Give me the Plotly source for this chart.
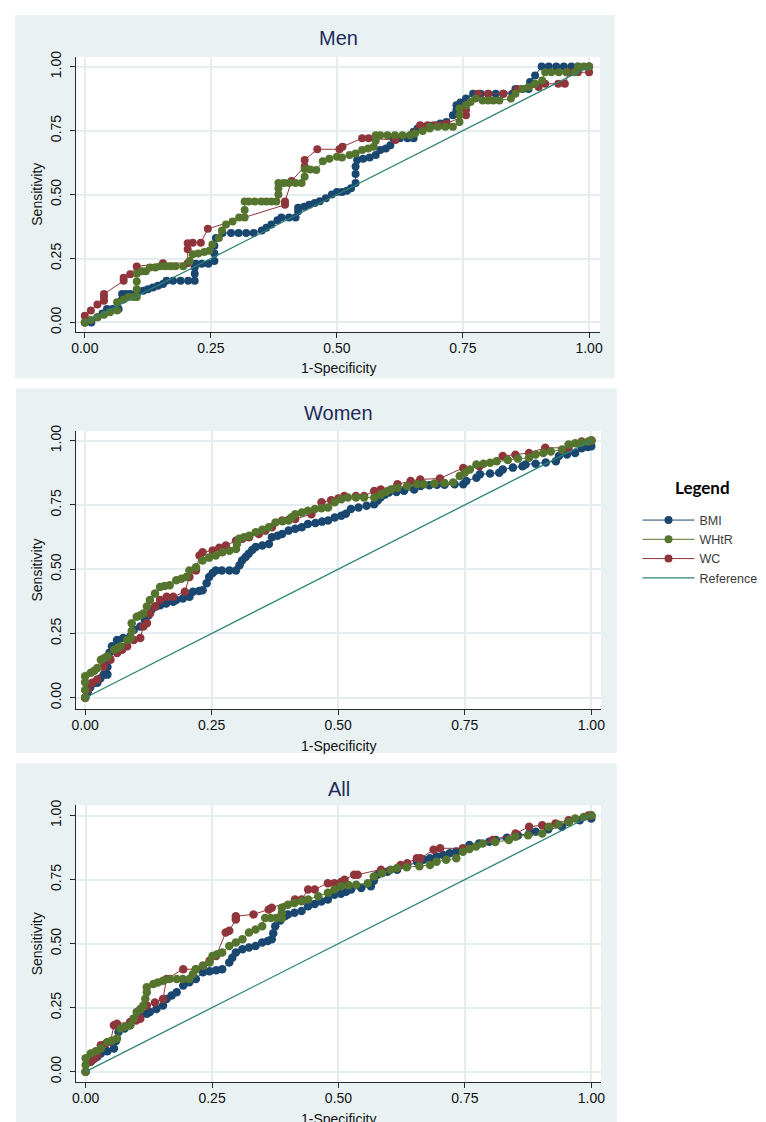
import plotly.graph_objects as go

# ---------------- data ----------------
tick_vals = [0, 0.25, 0.5, 0.75, 1]
tick_text = ["0.00", "0.25", "0.50", "0.75", "1.00"]
panel_titles = ["Men", "Women", "All"]
x_title = "1-Specificity"
y_title = "Sensitivity"

ref_line = [(0, 0), (1, 1)]

men_bmi = [(0,0),(0.013,0),(0.025,0.02),(0.035,0.035),(0.044,0.053),(0.055,0.053),(0.067,0.053),(0.074,0.09),
 (0.074,0.111),(0.082,0.111),(0.09,0.111),(0.103,0.111),(0.103,0.124),(0.116,0.124),(0.125,0.13),(0.135,0.137),
 (0.145,0.144),(0.155,0.15),(0.162,0.163),(0.175,0.163),(0.19,0.163),(0.205,0.163),(0.218,0.163),(0.218,0.19),
 (0.218,0.215),(0.22,0.23),(0.232,0.23),(0.245,0.23),(0.257,0.24),(0.257,0.27),(0.257,0.3),(0.26,0.33),
 (0.273,0.35),(0.29,0.35),(0.305,0.35),(0.32,0.35),(0.335,0.35),(0.351,0.36),(0.36,0.37),(0.37,0.383),
 (0.382,0.4),(0.39,0.41),(0.405,0.41),(0.418,0.41),(0.423,0.435),(0.423,0.448),(0.435,0.452),(0.445,0.46),
 (0.456,0.467),(0.466,0.474),(0.478,0.486),(0.49,0.5),(0.5,0.51),(0.51,0.51),(0.52,0.515),(0.528,0.525),
 (0.537,0.545),(0.537,0.58),(0.537,0.61),(0.54,0.635),(0.552,0.64),(0.565,0.645),(0.577,0.655),(0.586,0.674),
 (0.597,0.68),(0.606,0.693),(0.612,0.72),(0.625,0.72),(0.64,0.72),(0.652,0.72),(0.652,0.745),(0.66,0.758),
 (0.675,0.765),(0.69,0.77),(0.705,0.778),(0.717,0.784),(0.73,0.81),(0.737,0.83),(0.737,0.849),(0.745,0.86),
 (0.756,0.875),(0.77,0.894),(0.785,0.894),(0.8,0.894),(0.815,0.894),(0.83,0.894),(0.848,0.894),(0.854,0.913),
 (0.868,0.913),(0.88,0.913),(0.883,0.94),(0.893,0.965),(0.906,1.0),(0.92,1.0),(0.935,1.0),(0.95,1.0),
 (0.965,1.0),(0.978,1.0),(1.0,1.0)]

men_whtr = [(0,0),(0.012,0.01),(0.025,0.02),(0.038,0.03),(0.05,0.04),(0.064,0.047),(0.064,0.079),(0.077,0.09),
 (0.087,0.1),(0.097,0.1),(0.103,0.1),(0.103,0.13),(0.103,0.16),(0.103,0.19),(0.113,0.2),(0.121,0.2),(0.129,0.215),
 (0.14,0.215),(0.15,0.22),(0.16,0.22),(0.17,0.22),(0.18,0.22),(0.195,0.22),(0.208,0.24),(0.214,0.267),(0.225,0.27),
 (0.237,0.275),(0.247,0.28),(0.253,0.305),(0.266,0.33),(0.272,0.36),(0.28,0.383),(0.293,0.395),(0.306,0.41),
 (0.317,0.41),(0.317,0.44),(0.317,0.473),(0.325,0.473),(0.337,0.473),(0.35,0.473),(0.36,0.473),(0.37,0.473),
 (0.38,0.473),(0.384,0.5),(0.384,0.525),(0.384,0.545),(0.395,0.545),(0.405,0.545),(0.418,0.545),(0.43,0.545),
 (0.436,0.57),(0.436,0.6),(0.447,0.598),(0.459,0.596),(0.472,0.63),(0.485,0.64),(0.5,0.648),(0.51,0.645),
 (0.525,0.655),(0.537,0.66),(0.55,0.674),(0.562,0.68),(0.573,0.687),(0.577,0.71),(0.577,0.732),(0.586,0.732),
 (0.6,0.732),(0.615,0.732),(0.63,0.732),(0.645,0.732),(0.655,0.739),(0.67,0.748),(0.684,0.758),(0.684,0.765),
 (0.7,0.765),(0.715,0.765),(0.73,0.765),(0.743,0.784),(0.743,0.81),(0.743,0.836),(0.756,0.849),(0.765,0.862),
 (0.775,0.875),(0.789,0.868),(0.8,0.868),(0.81,0.868),(0.822,0.868),(0.845,0.875),(0.854,0.894),(0.868,0.913),
 (0.88,0.92),(0.893,0.933),(0.907,0.946),(0.913,0.978),(0.925,0.978),(0.94,0.978),(0.955,0.978),(0.972,0.978),
 (0.978,1.0),(0.99,1.0),(1.0,1.0)]

men_wc = [(0,0),(0,0.026),(0.012,0.047),(0.025,0.07),(0.038,0.085),(0.038,0.1),(0.038,0.111),(0.077,0.163),
 (0.077,0.175),(0.09,0.189),(0.103,0.219),(0.155,0.232),(0.204,0.232),(0.204,0.286),(0.204,0.31),(0.214,0.312),
 (0.23,0.312),(0.244,0.366),(0.397,0.46),(0.397,0.473),(0.41,0.553),(0.436,0.61),(0.436,0.635),(0.461,0.677),
 (0.505,0.677),(0.511,0.687),(0.55,0.72),(0.563,0.72),(0.616,0.713),(0.665,0.771),(0.68,0.771),(0.695,0.771),
 (0.705,0.771),(0.717,0.777),(0.756,0.81),(0.756,0.83),(0.756,0.849),(0.78,0.894),(0.8,0.894),(0.83,0.894),
 (0.858,0.913),(0.9,0.92),(0.913,0.933),(0.939,0.933),(0.952,0.933),(0.96,0.978),(0.978,0.978),(1.0,0.978),(1.0,1.0)]

women_bmi = [(0,0),(0.005,0.02),(0.01,0.04),(0.018,0.058),(0.024,0.058),(0.03,0.075),(0.037,0.09),(0.044,0.09),
 (0.044,0.12),(0.044,0.148),(0.048,0.175),(0.053,0.2),(0.063,0.225),(0.075,0.232),(0.089,0.238),(0.096,0.264),
 (0.109,0.277),(0.118,0.302),(0.125,0.32),(0.131,0.341),(0.14,0.355),(0.148,0.36),(0.16,0.367),(0.174,0.373),
 (0.18,0.38),(0.193,0.386),(0.206,0.393),(0.213,0.412),(0.225,0.415),(0.232,0.418),(0.24,0.445),(0.245,0.47),
 (0.252,0.485),(0.258,0.495),(0.27,0.495),(0.285,0.495),(0.298,0.495),(0.305,0.515),(0.31,0.534),(0.317,0.547),
 (0.323,0.56),(0.33,0.575),(0.337,0.586),(0.35,0.592),(0.363,0.598),(0.369,0.624),(0.38,0.63),(0.389,0.637),
 (0.402,0.65),(0.415,0.657),(0.428,0.663),(0.44,0.676),(0.455,0.68),(0.468,0.685),(0.48,0.689),(0.493,0.701),
 (0.506,0.708),(0.515,0.716),(0.525,0.734),(0.54,0.74),(0.556,0.747),(0.571,0.753),(0.578,0.767),(0.584,0.78),
 (0.592,0.79),(0.6,0.798),(0.615,0.8),(0.63,0.805),(0.65,0.81),(0.663,0.824),(0.68,0.826),(0.695,0.828),
 (0.71,0.828),(0.73,0.83),(0.747,0.83),(0.753,0.843),(0.773,0.856),(0.78,0.869),(0.8,0.872),(0.818,0.875),
 (0.825,0.888),(0.845,0.895),(0.864,0.9),(0.87,0.907),(0.89,0.91),(0.91,0.915),(0.93,0.92),(0.936,0.94),
 (0.952,0.946),(0.968,0.952),(0.981,0.97),(0.993,0.975),(1.0,0.978),(1.0,1.0)]

women_whtr = [(0,0),(0,0.03),(0,0.06),(0,0.084),(0.011,0.097),(0.018,0.105),(0.024,0.116),(0.031,0.148),
 (0.038,0.155),(0.044,0.161),(0.057,0.187),(0.064,0.193),(0.07,0.2),(0.083,0.225),(0.09,0.232),(0.092,0.26),
 (0.092,0.29),(0.102,0.315),(0.108,0.32),(0.115,0.328),(0.122,0.355),(0.128,0.38),(0.138,0.405),(0.148,0.431),
 (0.157,0.435),(0.167,0.438),(0.18,0.457),(0.19,0.463),(0.2,0.47),(0.206,0.495),(0.219,0.508),(0.232,0.534),
 (0.245,0.545),(0.258,0.553),(0.271,0.566),(0.285,0.572),(0.298,0.579),(0.3,0.598),(0.304,0.618),(0.314,0.624),
 (0.324,0.63),(0.337,0.644),(0.35,0.653),(0.363,0.663),(0.376,0.682),(0.39,0.686),(0.402,0.689),(0.408,0.702),
 (0.415,0.714),(0.428,0.72),(0.44,0.727),(0.454,0.734),(0.467,0.737),(0.48,0.74),(0.493,0.76),(0.506,0.772),
 (0.519,0.779),(0.535,0.779),(0.551,0.779),(0.571,0.779),(0.584,0.79),(0.594,0.8),(0.604,0.81),(0.617,0.817),
 (0.636,0.824),(0.656,0.83),(0.669,0.83),(0.69,0.833),(0.71,0.835),(0.727,0.837),(0.74,0.862),(0.75,0.875),
 (0.76,0.888),(0.773,0.907),(0.787,0.91),(0.8,0.914),(0.813,0.92),(0.835,0.925),(0.855,0.93),(0.877,0.933),
 (0.89,0.946),(0.905,0.952),(0.92,0.958),(0.942,0.965),(0.955,0.985),(0.968,0.99),(0.981,0.993),(0.994,0.997),(1.0,1.0)]

women_wc = [(0,0),(0.005,0.032),(0.014,0.058),(0.024,0.071),(0.037,0.122),(0.05,0.148),(0.063,0.174),(0.073,0.187),
 (0.083,0.2),(0.096,0.225),(0.109,0.232),(0.115,0.277),(0.122,0.29),(0.128,0.328),(0.138,0.355),(0.148,0.38),
 (0.161,0.393),(0.174,0.393),(0.197,0.412),(0.206,0.47),(0.219,0.495),(0.226,0.553),(0.232,0.566),(0.252,0.573),
 (0.265,0.583),(0.278,0.592),(0.298,0.611),(0.311,0.618),(0.324,0.624),(0.343,0.637),(0.356,0.65),(0.369,0.663),
 (0.389,0.689),(0.402,0.692),(0.415,0.695),(0.447,0.714),(0.467,0.76),(0.486,0.768),(0.5,0.775),(0.512,0.785),
 (0.535,0.785),(0.551,0.785),(0.571,0.804),(0.584,0.81),(0.617,0.83),(0.643,0.843),(0.662,0.849),(0.701,0.853),
 (0.747,0.894),(0.779,0.9),(0.825,0.94),(0.85,0.945),(0.877,0.952),(0.909,0.972),(0.955,0.972),(0.981,0.997),(1.0,1.0)]

all_bmi = [(0,0),(0.01,0.039),(0.017,0.05),(0.023,0.058),(0.03,0.071),(0.043,0.08),(0.056,0.09),(0.06,0.12),
 (0.065,0.155),(0.077,0.168),(0.088,0.181),(0.095,0.207),(0.108,0.216),(0.121,0.226),(0.127,0.233),(0.14,0.245),
 (0.153,0.258),(0.16,0.284),(0.17,0.297),(0.18,0.31),(0.193,0.336),(0.205,0.349),(0.218,0.362),(0.232,0.388),
 (0.245,0.392),(0.258,0.396),(0.27,0.4),(0.284,0.426),(0.29,0.445),(0.297,0.465),(0.31,0.478),(0.323,0.485),
 (0.336,0.491),(0.349,0.504),(0.36,0.51),(0.368,0.517),(0.371,0.54),(0.375,0.568),(0.385,0.59),(0.394,0.607),
 (0.4,0.614),(0.413,0.62),(0.427,0.627),(0.44,0.646),(0.453,0.655),(0.466,0.664),(0.479,0.672),(0.492,0.691),
 (0.505,0.695),(0.515,0.702),(0.525,0.711),(0.545,0.717),(0.564,0.724),(0.57,0.745),(0.577,0.769),(0.597,0.78),
 (0.616,0.788),(0.635,0.8),(0.655,0.82),(0.668,0.827),(0.681,0.833),(0.694,0.84),(0.707,0.846),(0.72,0.853),
 (0.733,0.86),(0.746,0.866),(0.759,0.885),(0.778,0.891),(0.798,0.898),(0.811,0.904),(0.833,0.913),(0.855,0.922),
 (0.877,0.93),(0.89,0.937),(0.915,0.946),(0.942,0.956),(0.955,0.975),(0.977,0.982),(1.0,0.988),(1.0,1.0)]

all_whtr = [(0,0),(0,0.026),(0,0.052),(0.01,0.071),(0.02,0.08),(0.03,0.09),(0.043,0.116),(0.052,0.122),(0.062,0.129),
 (0.069,0.168),(0.078,0.175),(0.088,0.181),(0.095,0.207),(0.101,0.233),(0.108,0.245),(0.114,0.258),(0.118,0.285),
 (0.121,0.31),(0.121,0.33),(0.134,0.342),(0.143,0.348),(0.153,0.355),(0.166,0.362),(0.18,0.362),(0.192,0.362),
 (0.205,0.362),(0.212,0.38),(0.218,0.4),(0.232,0.413),(0.245,0.426),(0.251,0.452),(0.26,0.458),(0.27,0.465),
 (0.284,0.491),(0.297,0.504),(0.31,0.517),(0.323,0.543),(0.336,0.555),(0.349,0.568),(0.355,0.6),(0.366,0.6),
 (0.377,0.6),(0.388,0.6),(0.388,0.62),(0.388,0.64),(0.4,0.652),(0.413,0.658),(0.427,0.665),(0.44,0.672),
 (0.46,0.685),(0.479,0.698),(0.492,0.711),(0.505,0.724),(0.52,0.728),(0.535,0.73),(0.558,0.736),(0.57,0.762),
 (0.586,0.775),(0.603,0.788),(0.616,0.795),(0.635,0.798),(0.66,0.802),(0.681,0.807),(0.694,0.82),(0.713,0.827),
 (0.733,0.833),(0.746,0.859),(0.759,0.869),(0.772,0.879),(0.785,0.891),(0.81,0.897),(0.837,0.904),(0.85,0.917),
 (0.875,0.923),(0.903,0.93),(0.916,0.956),(0.935,0.965),(0.955,0.975),(0.968,0.988),(0.985,0.994),(1.0,1.0)]

all_wc = [(0,0),(0.01,0.039),(0.017,0.052),(0.023,0.065),(0.03,0.103),(0.04,0.11),(0.049,0.116),(0.056,0.181),
 (0.062,0.187),(0.088,0.194),(0.1,0.2),(0.108,0.207),(0.121,0.258),(0.137,0.27),(0.153,0.284),(0.16,0.362),
 (0.193,0.4),(0.218,0.4),(0.232,0.413),(0.245,0.433),(0.258,0.452),(0.277,0.543),(0.284,0.55),(0.297,0.594),
 (0.297,0.607),(0.332,0.614),(0.362,0.633),(0.368,0.64),(0.414,0.672),(0.427,0.672),(0.44,0.711),(0.453,0.711),
 (0.479,0.736),(0.492,0.736),(0.505,0.74),(0.512,0.749),(0.531,0.769),(0.538,0.769),(0.584,0.788),(0.623,0.807),
 (0.636,0.814),(0.655,0.833),(0.662,0.833),(0.688,0.866),(0.701,0.872),(0.746,0.872),(0.805,0.904),(0.85,0.93),
 (0.877,0.956),(0.903,0.962),(0.929,0.969),(0.955,0.982),(0.994,1.0),(1.0,1.0)]

panel_data = [
    {"BMI": men_bmi, "WHtR": men_whtr, "WC": men_wc},
    {"BMI": women_bmi, "WHtR": women_whtr, "WC": women_wc},
    {"BMI": all_bmi, "WHtR": all_whtr, "WC": all_wc},
]

# ---------------- styling / geometry ----------------
OFF = 8                      # the page body adds an 8px margin
W, H = 766 - OFF, 1122 - OFF
COLORS = {"BMI": "#1A476F", "WHtR": "#55752F", "WC": "#90353B", "Reference": "#2E8374"}
RANK = {"BMI": 1, "WHtR": 2, "WC": 3, "Reference": 4}
DRAW_ORDER = ["BMI", "WC", "WHtR"]
BG = "#E9F1F3"
GRID = "#E4EDF0"
AXIS = "#2b2b2b"
TITLE_COLOR = "#1E2C5C"
FONT = "Liberation Sans, Arial, sans-serif"
TXT = "#111111"

# per panel (reference pixel coords): background box, plot box, axis ranges, title y, marker size
geo = [
    dict(bg=(10, 9, 617, 375), plot=(72, 51, 602, 328), xr=(-0.017, 1.0216), yr=(-0.036, 1.0388), ty=32, ms=8),
    dict(bg=(11, 385, 619, 752), plot=(72, 428, 603, 708), xr=(-0.0176, 1.019), yr=(-0.0436, 1.0375), ty=410, ms=8.5),
    dict(bg=(11, 763, 619, 1130), plot=(72, 805, 603, 1084), xr=(-0.0186, 1.019), yr=(-0.0415, 1.04), ty=789, ms=8.5),
]


def px(x):
    return (x - OFF) / W


def py(y):
    return 1 - (y - OFF) / H


fig = go.Figure()
shapes = []
annotations = []

for i, g in enumerate(geo):
    n = "" if i == 0 else str(i + 1)
    xa, ya = "x" + n, "y" + n
    bx0, by0, bx1, by1 = g["bg"]
    shapes.append(dict(type="rect", xref="paper", yref="paper", x0=px(bx0), x1=px(bx1),
                       y0=py(by1), y1=py(by0), fillcolor=BG, line=dict(width=0), layer="below"))
    x0, y0, x1, y1 = g["plot"]
    shapes.append(dict(type="rect", xref="paper", yref="paper", x0=px(x0), x1=px(x1),
                       y0=py(y1), y1=py(y0), fillcolor="white", line=dict(width=0), layer="below"))

    for name in DRAW_ORDER:
        pts = panel_data[i][name]
        fig.add_trace(go.Scatter(
            x=[p[0] for p in pts], y=[p[1] for p in pts], mode="lines+markers", name=name,
            legendgroup=name, legendrank=RANK[name], showlegend=(i == 0),
            line=dict(color=COLORS[name], width=1),
            marker=dict(color=COLORS[name], size=g["ms"], line=dict(width=0)),
            xaxis=xa, yaxis=ya, hoverinfo="skip"))
    fig.add_trace(go.Scatter(
        x=[p[0] for p in ref_line], y=[p[1] for p in ref_line], mode="lines", name="Reference",
        legendgroup="Reference", legendrank=RANK["Reference"], showlegend=(i == 0),
        line=dict(color=COLORS["Reference"], width=1.3), xaxis=xa, yaxis=ya, hoverinfo="skip"))

    axcommon = dict(showline=True, linecolor=AXIS, linewidth=1, ticks="outside", ticklen=5,
                    tickcolor=AXIS, tickwidth=1, showgrid=True, gridcolor=GRID, gridwidth=1.5,
                    zeroline=False, tickvals=tick_vals, ticktext=tick_text,
                    tickfont=dict(family=FONT, size=14, color=TXT))
    fig.layout["xaxis" + n] = dict(axcommon, domain=[px(x0), px(x1)], range=list(g["xr"]),
                                   anchor=ya, ticklabelstandoff=-2)
    fig.layout["yaxis" + n] = dict(axcommon, domain=[py(y1), py(y0)], range=list(g["yr"]),
                                   anchor=xa, tickangle=-90, ticklabelstandoff=4,
                                   title=dict(text=y_title, standoff=1,
                                              font=dict(family=FONT, size=14, color=TXT)))
    # x-axis title placed just under the tick labels, as in the reference
    annotations.append(dict(text=x_title, xref="paper", yref="paper",
                            x=px((x0 + x1) / 2), y=py(y1 + 37), xanchor="center", yanchor="middle",
                            showarrow=False, font=dict(family=FONT, size=14, color=TXT)))
    annotations.append(dict(text=panel_titles[i], xref="paper", yref="paper",
                            x=px((x0 + x1) / 2), y=py(g["ty"]), xanchor="center", yanchor="middle",
                            showarrow=False, font=dict(family=FONT, size=20, color=TITLE_COLOR)))

# legend heading
annotations.append(dict(text="<b>Legend</b>", xref="paper", yref="paper", x=px(706), y=py(485),
                        xanchor="center", yanchor="middle", showarrow=False,
                        font=dict(family="Lato, Carlito, sans-serif", size=17, color="#000000")))

fig.update_layout(
    width=W, height=H, margin=dict(l=0, r=0, t=0, b=0),
    paper_bgcolor="white", plot_bgcolor="white",
    shapes=shapes, annotations=annotations,
    legend=dict(x=px(640), y=py(503), xanchor="left", yanchor="top",
                traceorder="grouped", tracegroupgap=0, itemwidth=52,
                bgcolor="rgba(0,0,0,0)", font=dict(family=FONT, size=12.5, color="#3a3a3a")),
    font=dict(family=FONT),
)

fig.write_html("out.html")
